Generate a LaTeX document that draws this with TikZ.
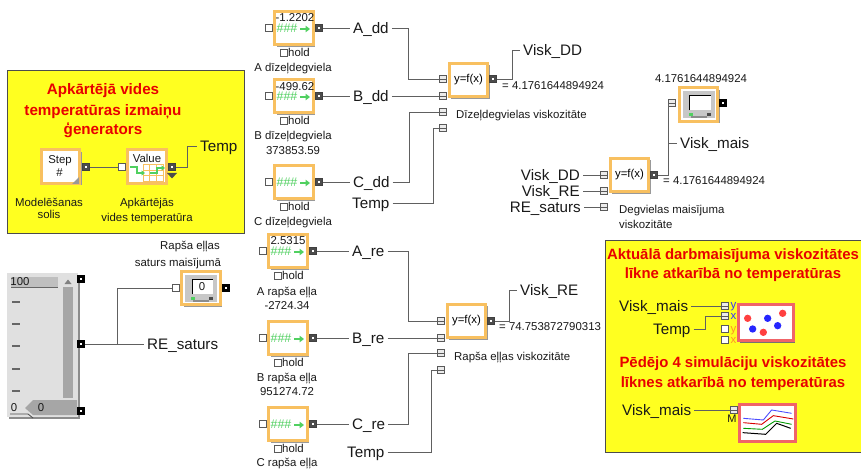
\documentclass[tikz,border=0pt]{standalone}
\usepackage{fontspec}
\setmainfont{Liberation Sans}
\usetikzlibrary{shadows,arrows.meta}
\definecolor{orangeframe}{HTML}{F8C060}
\definecolor{wirecol}{HTML}{606060}
\definecolor{yellowbg}{HTML}{FFFF20}
\definecolor{redtitle}{HTML}{E80000}
\definecolor{greenicon}{HTML}{50D060}
\definecolor{pinkframe}{HTML}{F06468}
\tikzset{
  wire/.style={draw=wirecol,line width=0.9pt},
  panel/.style={draw=black!70,line width=0.9pt,fill=yellowbg},
  frameblock/.style={draw=orangeframe,line width=3pt,fill=white,minimum width=38.5pt,minimum height=33.5pt,inner sep=0pt,
    general shadow={shadow xshift=2.2pt,shadow yshift=-2.2pt,fill=black!40}},
  plotframe/.style={draw=pinkframe,line width=3pt,fill=white,inner sep=0pt,
    general shadow={shadow xshift=2.4pt,shadow yshift=-2.4pt,fill=black!55}},
  inport/.style={draw=black!65,line width=0.8pt,fill=white,minimum size=6.5pt,inner sep=0pt},
  conport/.style={inport,fill=black!8,path picture={\draw[black!65,line width=0.7pt] (path picture bounding box.west) -- (path picture bounding box.east);}},
  outport/.style={draw=black!75,fill=black!70,line width=0.6pt,minimum size=6.5pt,inner sep=0pt,
    path picture={\fill[white] (path picture bounding box.center) ++(-1pt,-1pt) rectangle ++(2pt,2pt);}},
  blackport/.style={outport,draw=black,fill=black,path picture={\fill[white] (path picture bounding box.center) ++(-1.3pt,-1.3pt) rectangle ++(2.6pt,2.6pt);}},
  bigtxt/.style={font=\fontsize{15.2}{15}\selectfont,text height=12pt,text depth=1.2pt,inner ysep=0pt,inner xsep=3pt,text=black!90},
  smalltxt/.style={font=\fontsize{11.4}{11}\selectfont,text height=9pt,text depth=1.4pt,inner sep=0pt,text=black!90},
  titletxt/.style={font=\bfseries\fontsize{15.2}{15}\selectfont,text height=12pt,text depth=1.5pt,inner sep=0pt,text=redtitle},
  titletxtb/.style={titletxt,font=\bfseries\fontsize{14.9}{15}\selectfont},
  funcblock/.style={frameblock,font=\fontsize{11.4}{11}\selectfont},
  checkb/.style={draw=black!65,line width=0.7pt,fill=white,minimum size=6.5pt,inner sep=0pt},
  ticksty/.style={draw=black!60,line width=1.6pt},
}
\newcommand{\constblk}[3]{%
  \node[frameblock] (#1) at (#2,#3) {};
  \node[inport] (#1in) at (#2-25,#3) {};
  \node[outport] (#1out) at (#2+25,#3) {};
  \node[smalltxt,text=greenicon,font=\fontsize{12.5}{11}\selectfont] (#1hash) at (#2-7,#3+1) {\#\#\#};
  \draw[greenicon,line width=2pt,-{Triangle[length=4.5pt,width=6.5pt]}] (#2+6,#3+1) -- (#2+16,#3+1);
  \node[checkb] (#1chk) at (#2-10,#3+25) {};
  \node[smalltxt,anchor=west] (#1hold) at (#2-6,#3+25) {hold};
}
\newcommand{\dispblk}[4]{%
  \node[frameblock] (#1) at (#2,#3) {};
  \fill[black!22] (#2-16,#3-13) rectangle (#2+16,#3+14);
  \fill[white] (#2-9,#3-9) rectangle (#2+12,#3+6);
  \draw[black,line width=0.9pt] (#2-9,#3+6) -- (#2-9,#3-9) -- (#2+12,#3-9);
  \fill[greenicon] (#2-10,#3+9) rectangle (#2-6,#3+11.5);
  \fill[black!70] (#2+8,#3+9) rectangle (#2+12,#3+11.5);
  \fill[black!45] (#2-8,#3+12) rectangle (#2+8,#3+14);
  \node[smalltxt] (#1val) at (#2+1,#3-1) {#4};
}
\begin{document}
\begin{tikzpicture}[x=1pt,y=-1pt]
\useasboundingbox (0,0) rectangle (861,470);
\fill[white] (0,0) rectangle (861,470);

% ---------- generator panel
\draw[panel] (7.5,70.5) rectangle (244.5,233.5);
\node[titletxt] (t1) at (103,89) {Apkārtējā vides};
\node[titletxt] (t2) at (103,110) {temperatūras izmaiņu};
\node[titletxt] (t3) at (103,129) {ģenerators};
\node[frameblock] (stepb) at (60.5,166.5) {};
\fill[black!40] (79,177) -- (79,184) -- (72,184) -- cycle;
\node[smalltxt] (steptxt) at (60,160) {Step};
\node[smalltxt] (stephash) at (59.5,173) {\#};
\node[outport] (stepout) at (86,167) {};
\node[frameblock] (valueb) at (147,166.5) {};
\node[smalltxt] (valtxt) at (147,159) {Value};
\draw[orangeframe,line width=0.9pt] (143,164) rectangle (163,181);
\draw[orangeframe,line width=0.9pt] (149.7,164) -- (149.7,181) (156.3,164) -- (156.3,181) (143,170) -- (163,170) (143,175.5) -- (163,175.5);
\draw[greenicon,line width=1.5pt,-{Triangle[length=3.5pt,width=5pt]}] (130,167) -- (137,167) -- (137,173) -- (145,173);
\draw[greenicon,line width=1.5pt,-{Triangle[length=3.5pt,width=5pt]}] (150,173) -- (157,173) -- (157,168) -- (165,168);
\node[inport] (valin) at (122,167) {};
\node[outport] (valout) at (172,167) {};
\fill[black!70] (167,173) -- (177,173) -- (172,178.5) -- cycle;
\node[bigtxt,anchor=west] (temp0) at (197,146) {Temp};
\node[smalltxt] (l1) at (49,203) {Modelēšanas};
\node[smalltxt] (l2) at (49,215) {solis};
\node[smalltxt] (l3) at (147,203) {Apkārtējās};
\node[smalltxt] (l4) at (147,218) {vides temperatūra};
\draw[wire] (stepout) -- (valin);
\draw[wire] (valout) -- (187,167) |- (temp0.west);

% ---------- slider
\fill[black!45] (9,275) rectangle (79.5,419);
\fill[black!12] (7,273) rectangle (77.5,417);
\fill[black!25] (11,277) rectangle (58,287);
\draw[black!60,line width=0.7pt] (11,287) -- (58,287);
\node[smalltxt] (s100) at (20,282) {100};
\fill[black!50] (64.5,284) -- (71.5,284) -- (68,279.5) -- cycle;
\fill[black!35] (63,287) rectangle (73,398);
\foreach \ty in {302,324,346,369,391} \draw[ticksty] (12,\ty) -- (20,\ty);
\fill[black!35] (25,408) -- (33,400) -- (77,400) -- (77,415) -- (33,415) -- cycle;
\node[smalltxt] (s0a) at (14,408) {0};
\node[smalltxt] (s0b) at (41,408) {0};
\draw[black!70,line width=0.8pt] (10,414) -- (28,414) -- (33,418);
\node[blackport] (sl1) at (81,279) {};
\node[blackport] (sl2) at (81,344) {};
\node[blackport] (sl3) at (81,411) {};
\dispblk{dispa}{201}{288}{0}
\node[inport] (dispain) at (176,288) {};
\node[blackport] (dispaout) at (226,288) {};
\node[smalltxt] (l5) at (190,246) {Rapša eļļas};
\node[smalltxt] (l6) at (178,263) {saturs maisījumā};
\node[bigtxt,anchor=west] (resat) at (144,344) {RE\_saturs};
\draw[wire] (sl2) -- (resat.west);
\draw[wire] (117,344) |- (dispain);

% ---------- diesel coefficients
\constblk{ca}{294}{28}
\constblk{cb}{294}{96}
\constblk{cc}{294}{182}
\node[smalltxt] (va) at (295,18) {-1.2202};
\node[smalltxt] (vb) at (295,87) {-499.62};
\node[smalltxt] (l7) at (293,68) {A dīzeļdegviela};
\node[smalltxt] (l8) at (293,136) {B dīzeļdegviela};
\node[smalltxt] (l9) at (293,151) {373853.59};
\node[smalltxt] (l10) at (293,222) {C dīzeļdegviela};

\node[bigtxt,anchor=west] (add) at (350,28) {A\_dd};
\node[bigtxt,anchor=west] (bdd) at (350,96) {B\_dd};
\node[bigtxt,anchor=west] (cdd) at (350,182) {C\_dd};
\node[bigtxt,anchor=west] (tdd) at (349,203) {Temp};
\draw[wire] (caout) -- (add.west);
\draw[wire] (cbout) -- (bdd.west);
\draw[wire] (ccout) -- (cdd.west);

% function 1
\node[funcblock] (f1) at (468.5,80) {y=f(x)};
\node[conport] (f1a) at (443,79) {};
\node[conport] (f1b) at (443,96) {};
\node[conport] (f1c) at (443,112) {};
\node[conport] (f1d) at (443,128) {};
\node[outport] (f1o) at (493,79) {};
\draw[wire] (add.east) -- (408,28) |- (f1a);
\draw[wire] (bdd.east) -- (f1b);
\draw[wire] (cdd.east) -- (409,182) |- (f1c);
\draw[wire] (tdd.east) -- (433,203) |- (f1d);
\node[bigtxt,anchor=west] (vdd) at (520,50) {Visk\_DD};
\draw[wire] (f1o) -- (512,79) |- (vdd.west);
\node[smalltxt,anchor=west] (l11) at (502,86) {= 4.1761644894924};
\node[smalltxt,anchor=west] (l12) at (456,115) {Dīzeļdegvielas viskozitāte};

% ---------- rapeseed coefficients
\constblk{cd}{288}{251}
\constblk{ce}{288}{338}
\constblk{cf}{288}{424}
\node[smalltxt] (vd) at (288,241) {2.5315};
\node[smalltxt] (l13) at (287,292) {A rapša eļļa};
\node[smalltxt] (l14) at (287,306) {-2724.34};
\node[smalltxt] (l15) at (287,378) {B rapša eļļa};
\node[smalltxt] (l16) at (287,392) {951274.72};
\node[smalltxt] (l17) at (287,463) {C rapša eļļa};

\node[bigtxt,anchor=west] (are) at (349,251) {A\_re};
\node[bigtxt,anchor=west] (bre) at (349,338) {B\_re};
\node[bigtxt,anchor=west] (cre) at (349,424) {C\_re};
\node[bigtxt,anchor=west] (tre) at (344,452) {Temp};
\draw[wire] (cdout) -- (are.west);
\draw[wire] (ceout) -- (bre.west);
\draw[wire] (cfout) -- (cre.west);

% function 2
\node[funcblock] (f2) at (466.5,321) {y=f(x)};
\node[conport] (f2a) at (441,321) {};
\node[conport] (f2b) at (441,338) {};
\node[conport] (f2c) at (441,353) {};
\node[conport] (f2d) at (441,370) {};
\node[outport] (f2o) at (491,321) {};
\draw[wire] (are.east) -- (408,251) |- (f2a);
\draw[wire] (bre.east) -- (f2b);
\draw[wire] (cre.east) -- (408,424) |- (f2c);
\draw[wire] (tre.east) -- (431,452) |- (f2d);
\node[bigtxt,anchor=west] (vre) at (517,290) {Visk\_RE};
\draw[wire] (f2o) -- (509,321) |- (vre.west);
\node[smalltxt,anchor=west] (l18) at (499,327) {= 74.753872790313};
\node[smalltxt,anchor=west] (l19) at (454,357) {Rapša eļļas viskozitāte};

% ---------- function 3 and display
\node[funcblock] (f3) at (629.5,175) {y=f(x)};
\node[conport] (f3a) at (604,175) {};
\node[conport] (f3b) at (604,191) {};
\node[conport] (f3c) at (604,207) {};
\node[outport] (f3o) at (654,175) {};
\node[bigtxt,anchor=east] (ivdd) at (583,175) {Visk\_DD};
\node[bigtxt,anchor=east] (ivre) at (583,191) {Visk\_RE};
\node[bigtxt,anchor=east] (irs) at (584,207) {RE\_saturs};
\draw[wire] (ivdd.east) -- (f3a);
\draw[wire] (ivre.east) -- (f3b);
\draw[wire] (irs.east) -- (f3c);
\dispblk{dispb}{698.5}{104.5}{}
\node[conport] (dispbin) at (672,103) {};
\node[blackport] (dispbout) at (723,103) {};
\node[smalltxt] (l20) at (701,79) {4.1761644894924};
\node[bigtxt,anchor=west] (vmx) at (677,143) {Visk\_mais};
\draw[wire] (f3o) -- (668,175) |- (dispbin);
\draw[wire] (668,143) -- (vmx.west);
\node[smalltxt,anchor=west] (l21) at (663,181) {= 4.1761644894924};
\node[smalltxt,anchor=west] (l22) at (619,210) {Degvielas maisījuma};
\node[smalltxt,anchor=west] (l23) at (619,225) {viskozitāte};

% ---------- plots panel
\draw[panel] (605.5,240.5) rectangle (861.5,452);
\node[titletxtb] (t4) at (733,254) {Aktuālā darbmaisījuma viskozitātes};
\node[titletxtb] (t5) at (733,273) {līkne atkarībā no temperatūras};
\node[titletxtb] (t6) at (733,362) {Pēdējo 4 simulāciju viskozitātes};
\node[titletxtb] (t7) at (733,382) {līknes atkarībā no temperatūras};

\node[plotframe,minimum width=55pt,minimum height=36pt] (p1) at (765.5,322.5) {};
\begin{scope}[shift={(600,235)},x=.3333pt,y=-.3333pt]
  \fill[red!75!white] (443,250) circle (11) (548,235) circle (11) (490,292) circle (11);
  \fill[blue!85!white] (503,250) circle (11) (458,282) circle (11) (533,272) circle (11);
\end{scope}
\node[conport] (py1) at (725,306) {};
\node[conport] (px1) at (725,316) {};
\node[inport] (py2) at (725,329) {};
\node[inport] (px2) at (725,340) {};
\node[smalltxt,text=blue!80!white] (ly1) at (733.5,305) {y};
\node[smalltxt,text=blue!80!white] (lx1) at (733.5,316) {x};
\node[smalltxt,text=orange!85!white] (ly2) at (733.5,329) {y};
\node[smalltxt,text=orange!85!white] (lx2) at (733.5,340) {x};
\node[bigtxt,anchor=west] (vm1) at (616,306) {Visk\_mais};
\node[bigtxt,anchor=west] (tp1) at (650,329) {Temp};
\draw[wire] (vm1.east) -- (py1);
\draw[wire] (tp1.east) -- (705,329) |- (px1);

\node[plotframe,minimum width=56pt,minimum height=37pt] (p2) at (767,422.5) {};
\begin{scope}[shift={(600,235)},x=.3333pt,y=-.3333pt]
  \draw[blue!70!white,line width=0.9pt] (430,550) -- (490,555) -- (515,525) -- (575,535);
  \draw[red!85!black,line width=0.9pt] (430,563) -- (485,568) -- (520,542) -- (580,552);
  \draw[green!60!black,line width=0.9pt] (430,580) -- (487,583) -- (525,558) -- (575,568);
  \draw[black,line width=1pt] (428,593) -- (497,598) -- (530,565) -- (572,580);
\end{scope}
\node[conport] (pm) at (734,410) {};
\node[smalltxt,font=\fontsize{11}{11}\selectfont] (lm) at (732,418.5) {M};
\node[bigtxt,anchor=west] (vm2) at (619,410) {Visk\_mais};
\draw[wire] (vm2.east) -- (pm);
\end{tikzpicture}
\end{document}
